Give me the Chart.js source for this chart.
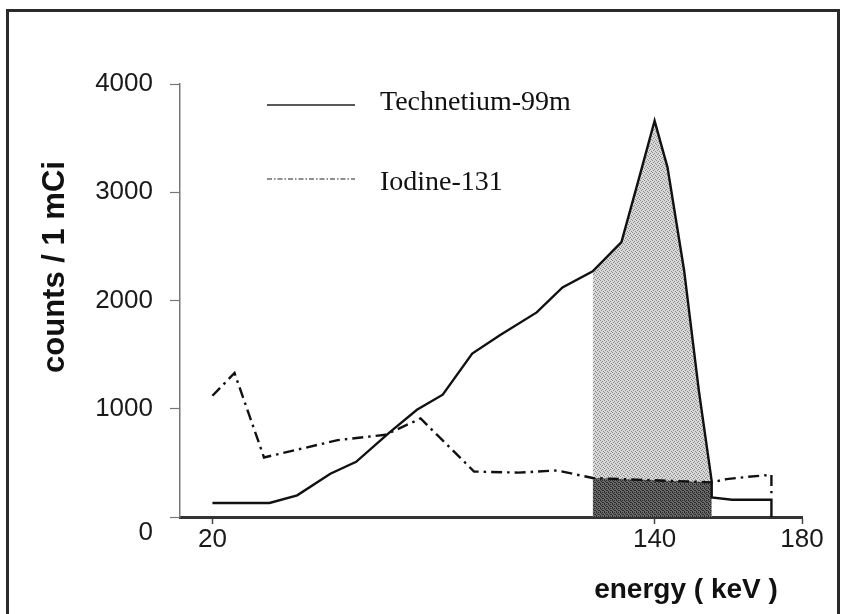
<!DOCTYPE html>
<html><head><meta charset="utf-8">
<script src="https://cdn.jsdelivr.net/npm/chart.js@4.4.0/dist/chart.umd.min.js"></script>
<style>
html,body{margin:0;padding:0;background:#fff;overflow:hidden;width:848px;height:614px}
#wrap{position:relative;width:848px;height:614px}
#frame{position:absolute;left:6px;top:9px;width:828px;height:700px;border:3px solid #2a2a2a;pointer-events:none}
canvas{position:absolute;left:0;top:0}
</style></head><body>
<div id="wrap"><canvas id="c" width="848" height="614"></canvas><div id="frame"></div></div>
<script>
// ---- data ----
const seriesNames = ['Technetium-99m', 'Iodine-131'];
const tcEnergy = [20, 35.5, 43, 52, 59, 68, 75.5, 82.5, 90.5, 98, 108, 115, 123.2, 131, 136.5, 140, 143.5, 148, 152, 155.5, 155.5, 161, 171.7, 171.7];
const tcCounts = [130, 130, 200, 400, 510, 780, 990, 1130, 1510, 1680, 1890, 2120, 2270, 2540, 3220, 3660, 3230, 2280, 1170, 330, 180, 160, 160, 0];
const ioEnergy = [20, 26, 34, 54, 67, 76.5, 91, 103, 113.5, 123.2, 155.5, 159.5, 165, 171.7, 171.7];
const ioCounts = [1120, 1330, 550, 710, 760, 910, 420, 410, 430, 360, 320, 350, 370, 390, 220];
const energyWindow = [123.2, 155.5];
const xTicks = [20, 140, 180];
const yTicks = [0, 1000, 2000, 3000, 4000];
const axisTitles = { x: 'energy ( keV )', y: 'counts / 1 mCi' };

// ---- build points ----
const pts = (xs, ys) => xs.map((x, i) => ({ x: x, y: ys[i] }));
const inWin = p => p.x >= energyWindow[0] && p.x <= energyWindow[1];
const tcPts = pts(tcEnergy, tcCounts);
const ioPts = pts(ioEnergy, ioCounts);

const canvas = document.getElementById('c');
const mainCtx = canvas.getContext('2d');
function stipple(bg, dot, spots) {
  const t = document.createElement('canvas');
  t.width = 4; t.height = 4;
  const g = t.getContext('2d');
  g.fillStyle = bg; g.fillRect(0, 0, 4, 4);
  g.fillStyle = dot;
  spots.forEach(s => g.fillRect(s[0], s[1], 1, 1));
  return mainCtx.createPattern(t, 'repeat');
}
const lightFill = stipple('#d8d8d8', '#8c8c8c', [[0,0],[2,1],[1,2],[3,3]]);
const darkFill = stipple('#6a6a6a', '#2c2c2c', [[0,0],[2,0],[1,1],[3,2],[0,3],[2,2]]);

const SANS = '"Liberation Sans", Arial, sans-serif';
const SERIF = '"Liberation Serif", "Times New Roman", serif';

const decor = {
  id: 'decor',
  afterDraw(chart) {
    const ctx = chart.ctx;
    ctx.save();
    // legend
    const items = [
      { ly: 105, ty: 110, dash: [], w: 1.4, label: chart.data.datasets[0].label },
      { ly: 179, ty: 190, dash: [5, 2, 1.5, 2], w: 1.1, label: chart.data.datasets[1].label }
    ];
    items.forEach(it => {
      ctx.beginPath();
      ctx.setLineDash(it.dash);
      ctx.lineWidth = it.w;
      ctx.strokeStyle = '#222';
      ctx.moveTo(267, it.ly); ctx.lineTo(355, it.ly);
      ctx.stroke();
      ctx.setLineDash([]);
      ctx.fillStyle = '#111';
      ctx.font = '28px ' + SERIF;
      ctx.textAlign = 'left';
      ctx.textBaseline = 'alphabetic';
      ctx.fillText(it.label, 380, it.ty);
    });
    // axis titles
    ctx.fillStyle = '#111';
    ctx.font = 'bold 28px ' + SANS;
    ctx.textAlign = 'center';
    ctx.textBaseline = 'alphabetic';
    ctx.fillText(axisTitles.x, 686, 598);
    ctx.save();
    ctx.translate(64, 267);
    ctx.rotate(-Math.PI / 2);
    ctx.font = 'bold 31px ' + SANS;
    ctx.fillText(axisTitles.y, 0, 0);
    ctx.restore();
    ctx.restore();
  }
};

new Chart(canvas, {
  type: 'line',
  data: {
    datasets: [
      { label: seriesNames[0], data: tcPts, borderColor: '#111', borderWidth: 2.4, pointRadius: 0, fill: false, order: 0, tension: 0 },
      { label: seriesNames[1], data: ioPts, borderColor: '#111', borderWidth: 2.4, borderDash: [11, 5, 2.5, 5], pointRadius: 0, fill: false, order: 1, tension: 0 },
      { label: 'window-io', data: ioPts.filter(inWin), borderWidth: 0, pointRadius: 0, fill: 'origin', backgroundColor: darkFill, order: 2 },
      { label: 'window-tc', data: tcPts.filter(inWin), borderWidth: 0, pointRadius: 0, fill: 'origin', backgroundColor: lightFill, order: 3 }
    ]
  },
  options: {
    responsive: false,
    animation: false,
    events: [],
    layout: { padding: { top: 84, right: 46, left: 0, bottom: 0 } },
    plugins: { legend: { display: false }, tooltip: { enabled: false } },
    scales: {
      x: {
        type: 'linear', min: 11.2, max: 180,
        afterBuildTicks: s => { s.ticks = xTicks.map(v => ({ value: v })); },
        afterFit: s => { s.height = 97; },
        ticks: { autoSkip: false, maxRotation: 0, padding: 0, color: '#1a1a1a', font: { family: SANS, size: 26 }, callback: v => String(v) },
        grid: { drawOnChartArea: false, tickLength: 7, color: '#444', tickWidth: 1.5 },
        border: { color: '#333', width: 3 }
      },
      y: {
        type: 'linear', min: 0, max: 4000,
        afterBuildTicks: s => { s.ticks = yTicks.map(v => ({ value: v })); },
        afterFit: s => { s.width = 180; },
        ticks: { padding: 17, color: '#1a1a1a', font: { family: SANS, size: 26 }, callback: v => v === 0 ? ['', '0'] : String(v) },
        grid: { drawOnChartArea: false, tickLength: 10, color: '#777', tickWidth: 1.2 },
        border: { color: '#777', width: 1.5 }
      }
    }
  },
  plugins: [decor]
});
</script>
</body></html>
